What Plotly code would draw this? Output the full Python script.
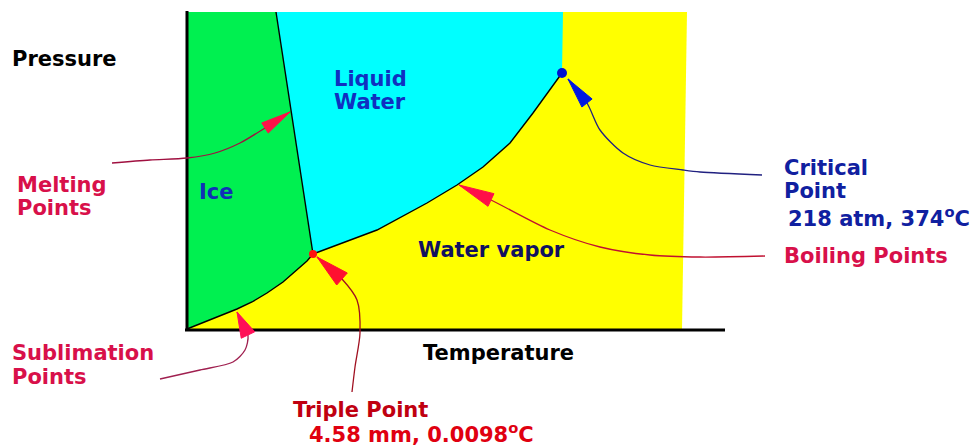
import math
import plotly.graph_objects as go

# ---- data (temperature T, pressure P in arbitrary diagram units; origin = axis corner) ----
plot_top = 318
plot_right_top = 500
plot_right_bottom = 495

triple_T, triple_P = 126, 76
critical_T, critical_P = 375, 257

melting_T = [89, 104, 126]
melting_P = [318, 220, 76]

sublimation_T = [0, 25, 50, 65, 80, 96, 110, 120, 126]
sublimation_P = [1, 11, 21, 28, 37, 48, 60, 69, 76]

boiling_T = [126, 190, 240, 270, 296, 323, 346, 363, 375]
boiling_P = [76, 100, 127, 145, 163, 187, 217, 240, 257]

# leader lines (from label side to arrow base) and arrow tips
melt_lead_T = [-75, -37, 0, 28, 53, 78]
melt_lead_P = [167, 170, 172, 177, 187, 202]
melt_tip = (103, 218)

crit_lead_T = [575, 513, 496, 463, 436, 413, 400]
crit_lead_P = [155, 158, 160, 165, 177, 200, 227]
crit_tip = (381, 251)

boil_lead_T = [578, 513, 463, 413, 363, 304]
boil_lead_P = [74, 73, 75, 83, 100, 130]
boil_tip = (272, 145)

trip_lead_T = [165, 168, 173, 170, 155]
trip_lead_P = [-62, -37, -3, 30, 51]
trip_tip = (130, 73)

subl_lead_T = [-27, 13, 46, 58, 61]
subl_lead_P = [-49, -40, -32, -20, -5]
subl_tip = (50, 18)

FONT = "DejaVu Sans"

fig = go.Figure()

# yellow vapor background
fig.add_trace(go.Scatter(
    x=[0, plot_right_top, plot_right_bottom, 0],
    y=[plot_top, plot_top, 0, 0],
    fill="toself", fillcolor="#ffff00", line=dict(width=0), mode="lines"))

# ice region (green)
g_T = [0, melting_T[0]] + melting_T[1:] + sublimation_T[::-1][1:]
g_P = [plot_top, melting_P[0]] + melting_P[1:] + sublimation_P[::-1][1:]
fig.add_trace(go.Scatter(x=g_T, y=g_P, fill="toself", fillcolor="#00f050",
                         line=dict(width=0), mode="lines"))

# liquid region (cyan)
c_T = [melting_T[0], critical_T + 1, critical_T] + boiling_T[::-1][1:] + melting_T[1:][::-1][1:] + [melting_T[0]]
c_P = [plot_top, plot_top, critical_P] + boiling_P[::-1][1:] + melting_P[1:][::-1][1:] + [melting_P[0]]
fig.add_trace(go.Scatter(x=c_T, y=c_P, fill="toself", fillcolor="#00ffff",
                         line=dict(width=0), mode="lines"))

# phase boundaries
for xs, ys in [(melting_T, melting_P), (sublimation_T, sublimation_P), (boiling_T, boiling_P)]:
    fig.add_trace(go.Scatter(x=xs, y=ys, mode="lines",
                             line=dict(color="black", width=1.4)))

# axes
fig.add_trace(go.Scatter(x=[0, 0], y=[-1, plot_top + 1], mode="lines",
                         line=dict(color="black", width=3)))
fig.add_trace(go.Scatter(x=[-2, 538], y=[0, 0], mode="lines",
                         line=dict(color="black", width=3)))


def leader(xs, ys, tip, lcolor, hcolor, length_half=7):
    fig.add_trace(go.Scatter(x=xs + [tip[0]], y=ys + [tip[1]], mode="lines",
                             line=dict(color=lcolor, width=1.3, shape="spline", smoothing=0.8)))
    bx, by = xs[-1], ys[-1]
    dx, dy = tip[0] - bx, tip[1] - by
    L = math.hypot(dx, dy)
    nx, ny = -dy / L, dx / L
    hx = [tip[0], bx + nx * length_half, bx - nx * length_half, tip[0]]
    hy = [tip[1], by + ny * length_half, by - ny * length_half, tip[1]]
    fig.add_trace(go.Scatter(x=hx, y=hy, fill="toself", fillcolor=hcolor,
                             line=dict(color=hcolor, width=1), mode="lines"))


leader(melt_lead_T, melt_lead_P, melt_tip, "#a01040", "#ff1048", 6)
leader(crit_lead_T, crit_lead_P, crit_tip, "#202080", "#0018e0", 6.5)
leader(boil_lead_T, boil_lead_P, boil_tip, "#c01030", "#ff1048", 7)
leader(trip_lead_T, trip_lead_P, trip_tip, "#a01020", "#ff1030", 8)
leader(subl_lead_T, subl_lead_P, subl_tip, "#a02050", "#ff1058", 7.5)

# points
fig.add_trace(go.Scatter(x=[critical_T], y=[critical_P], mode="markers",
                         marker=dict(color="#0010d0", size=10)))
fig.add_trace(go.Scatter(x=[triple_T], y=[triple_P], mode="markers",
                         marker=dict(color="#ff1010", size=8)))

labels = [
    ("Pressure", -177, 271, "black"),
    ("Melting", -172, 145, "#d8104a"),
    ("Points", -172, 122, "#d8104a"),
    ("Ice", 10, 138, "#1030b8"),
    ("Liquid", 145, 251, "#1030c0"),
    ("Water", 145, 228, "#1030c0"),
    ("Water vapor", 229, 80, "#101060"),
    ("Critical", 595, 162, "#1020a0"),
    ("Point", 595, 139, "#1020a0"),
    ("218 atm, 374<sup>o</sup>C", 599, 113, "#1020a0"),
    ("Boiling Points", 595, 74, "#d8104a"),
    ("Sublimation", -177, -23, "#d8104a"),
    ("Points", -177, -47, "#d8104a"),
    ("Temperature", 234, -23, "black"),
    ("Triple Point", 104, -80, "#c00010"),
    ("4.58 mm, 0.0098<sup>o</sup>C", 120, -103, "#e00010"),
]
for text, x, y, col in labels:
    fig.add_annotation(x=x, y=y, text=f"<b>{text}</b>", showarrow=False,
                       xanchor="left", yanchor="middle",
                       font=dict(family=FONT, size=21, color=col))

fig.update_layout(
    width=973, height=448, margin=dict(l=0, r=0, t=0, b=0),
    paper_bgcolor="white", plot_bgcolor="white",
    showlegend=False, hovermode=False,
    xaxis=dict(range=[-187, 786], visible=False, fixedrange=True),
    yaxis=dict(range=[-118, 330], visible=False, fixedrange=True),
)

fig.write_html("out.html", config={"displayModeBar": False},
               post_script="document.body.style.margin='0';document.body.style.overflow='hidden';")
